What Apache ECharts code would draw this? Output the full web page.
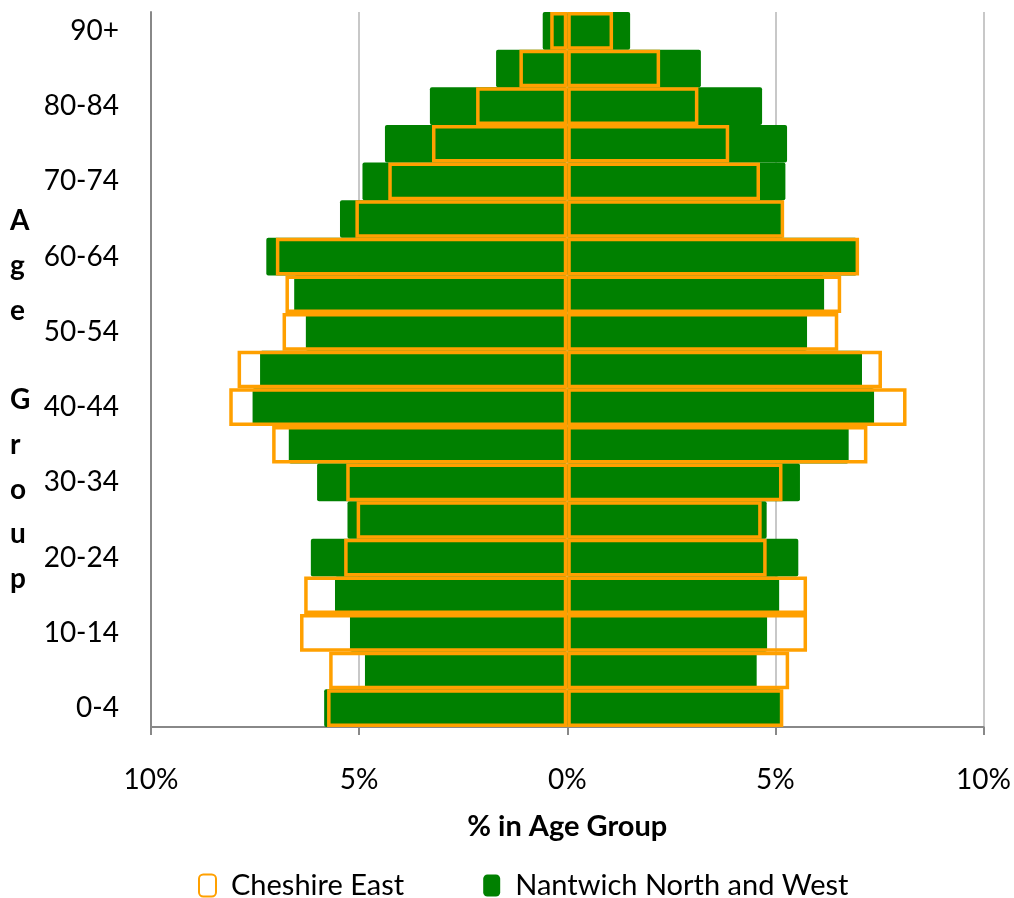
<!DOCTYPE html>
<html>
<head>
<meta charset="utf-8">
<script src="https://cdn.jsdelivr.net/npm/echarts@6/dist/echarts.min.js"></script>
<style>
html,body{margin:0;padding:0;background:#fff;}
#chart{width:1014px;height:898px;}
</style>
</head>
<body>
<div id="chart"></div>
<script>
const ageGroups = ['0-4','5-9','10-14','15-19','20-24','25-29','30-34','35-39','40-44','45-49','50-54','55-59','60-64','65-69','70-74','75-79','80-84','85-89','90+'];
// Left side (drawn as negative) and right side, % in age group
const nantwichLeft  = [5.84,4.86,5.22,5.58,6.16,5.28,6.01,6.69,7.56,7.38,6.28,6.56,7.23,5.46,4.92,4.38,3.30,1.71,0.59];
const nantwichRight = [5.13,4.55,4.80,5.09,5.55,4.79,5.59,6.76,7.37,7.08,5.76,6.17,6.96,5.19,5.24,5.28,4.68,3.21,1.51];
const cheshireLeft  = [5.77,5.72,6.42,6.32,5.36,5.06,5.31,7.09,8.12,7.92,6.84,6.77,7.00,5.09,4.30,3.25,2.19,1.15,0.41];
const cheshireRight = [5.19,5.33,5.76,5.76,4.79,4.67,5.17,7.21,8.15,7.56,6.51,6.58,7.01,5.21,4.63,3.89,3.15,2.23,1.10];
const xMin = -10, xMax = 10, xStep = 5;
const seriesNames = ['Cheshire East', 'Nantwich North and West'];
const xTitle = '% in Age Group';
const yTitle = 'Age Group';

const FONT = 'Lato';
const GREEN = '#008000';
const ORANGE = '#FFA000';

const neg = a => a.map(v => -v);

const chart = echarts.init(document.getElementById('chart'), null, {renderer: 'canvas'});
chart.setOption({
  animation: false,
  backgroundColor: '#fff',
  textStyle: {fontFamily: FONT},
  grid: {left: 151, right: 29, top: 12, bottom: 171, containLabel: false},
  legend: {
    data: seriesNames,
    top: 871,
    left: 198,
    padding: 0,
    itemWidth: 17,
    itemHeight: 22,
    itemGap: 79,
    textStyle: {fontFamily: FONT, fontSize: 29, color: '#000', padding: [0, 0, 0, 10]},
    selectedMode: false
  },
  xAxis: {
    type: 'value',
    min: xMin, max: xMax, interval: xStep,
    axisLine: {show: true, lineStyle: {color: '#888', width: 2}},
    axisTick: {show: true, length: 8, lineStyle: {color: '#888', width: 2}},
    axisLabel: {fontFamily: FONT, fontSize: 28, color: '#000', margin: 39,
      formatter: v => Math.abs(v) + '%'},
    splitLine: {show: true, lineStyle: {color: '#c8c8c8', width: 2}},
    name: xTitle,
    nameLocation: 'middle',
    nameGap: 85,
    nameTextStyle: {fontFamily: FONT, fontSize: 29, fontWeight: 'bold', color: '#000'}
  },
  yAxis: [{
    type: 'category',
    data: ageGroups,
    axisLine: {show: false},
    axisTick: {show: false},
    axisLabel: {interval: 1, fontFamily: FONT, fontSize: 28, color: '#000', margin: 32}
  }, {
    type: 'category',
    data: ageGroups,
    z: 10,
    position: 'left',
    axisLine: {show: true, onZero: true, lineStyle: {color: '#888', width: 2}},
    axisTick: {show: false},
    axisLabel: {show: false},
    splitLine: {show: false}
  }],
  graphic: [{
    type: 'text',
    left: 10,
    top: 199,
    style: {
      text: yTitle.split(' ').map(w => w.split('').join('\n')).join('\n\n'),
      font: 'bold 28px ' + FONT,
      fill: '#000',
      lineHeight: 44.7,
      align: 'left'
    }
  }],
  series: [
    {name: seriesNames[1], type: 'bar', stack: 'n', data: neg(nantwichLeft),
     barCategoryGap: '0%', barGap: '-100%',
     itemStyle: {color: GREEN, borderRadius: 2}},
    {name: seriesNames[1], type: 'bar', stack: 'n', data: nantwichRight,
     barCategoryGap: '0%', barGap: '-100%',
     itemStyle: {color: GREEN, borderRadius: 2}},
    {name: seriesNames[0], type: 'bar', stack: 'c', data: neg(cheshireLeft),
     barCategoryGap: '0%', barGap: '-100%',
     itemStyle: {color: 'rgba(255,255,255,0)', borderColor: ORANGE, borderWidth: 3.5}},
    {name: seriesNames[0], type: 'bar', stack: 'c', data: cheshireRight,
     barCategoryGap: '0%', barGap: '-100%',
     itemStyle: {color: 'rgba(255,255,255,0)', borderColor: ORANGE, borderWidth: 3.5}}
  ]
});
</script>
</body>
</html>
